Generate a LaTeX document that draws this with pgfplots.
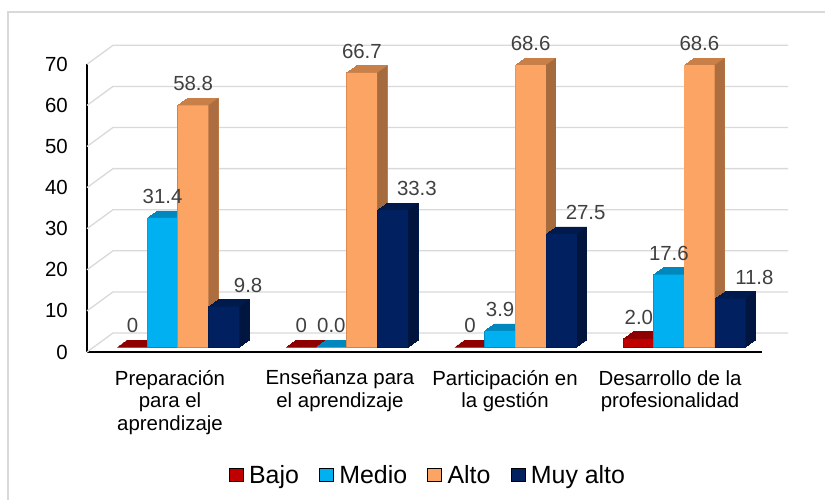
\documentclass[border=0pt]{standalone}
\usepackage{fontspec}
\setmainfont{Liberation Sans}
\usepackage{pgfplots}
\usepackage{pgfplotstable}
\pgfplotsset{compat=1.18}

\definecolor{bajoF}{HTML}{C00000}
\definecolor{bajoT}{HTML}{8E0000}
\definecolor{bajoD}{HTML}{760000}
\definecolor{medioF}{HTML}{00B0F0}
\definecolor{medioT}{HTML}{0088BE}
\definecolor{medioD}{HTML}{0076A6}
\definecolor{altoF}{HTML}{FCA463}
\definecolor{altoT}{HTML}{C88048}
\definecolor{altoD}{HTML}{A56A3E}
\definecolor{muyF}{HTML}{002060}
\definecolor{muyT}{HTML}{001A4E}
\definecolor{muyD}{HTML}{00143C}
\definecolor{gridc}{HTML}{D9D9D9}
\definecolor{framec}{HTML}{D9D9D9}
\definecolor{labc}{HTML}{404040}

\pgfplotstableread{
x v lab
0 0 0
1 0 0
2 0 0
3 2.0 2.0
}\bajo
\pgfplotstableread{
x v lab
0 31.4 31.4
1 0 0.0
2 3.9 3.9
3 17.6 17.6
}\medio
\pgfplotstableread{
x v lab
0 58.8 58.8
1 66.7 66.7
2 68.6 68.6
3 68.6 68.6
}\alto
\pgfplotstableread{
x v lab
0 9.8 9.8
1 33.3 33.3
2 27.5 27.5
3 11.8 11.8
}\muy
\pgfplotstableread{
x y
-0.5 0
-0.34593 4.623
3.65407 4.623
nan nan
-0.5 10
-0.34593 14.623
3.65407 14.623
nan nan
-0.5 20
-0.34593 24.623
3.65407 24.623
nan nan
-0.5 30
-0.34593 34.623
3.65407 34.623
nan nan
-0.5 40
-0.34593 44.623
3.65407 44.623
nan nan
-0.5 50
-0.34593 54.623
3.65407 54.623
nan nan
-0.5 60
-0.34593 64.623
3.65407 64.623
nan nan
-0.5 70
-0.34593 74.623
3.65407 74.623
}\gridtab

% #1 table, #2 front bar shift, #3 side strip shift, #4 top colour, #5 side colour, #6 front colour
\newcommand{\barseries}[6]{%
  \pgfplotsinvokeforeach{0,...,10}{%
    \addplot[ybar, bar width=30.5bp, bar shift=#2, fill=#4, draw=#4, line width=0.8bp,
      xshift=##1bp, yshift={5bp+0.7bp*##1}, forget plot] table[x=x,y=v]{#1};
  }%
  \pgfplotsinvokeforeach{0,...,9}{%
    \addplot[ybar, bar width=1.15bp, bar shift=#3, fill=#5, draw=none,
      xshift=##1bp, yshift={5.35bp+0.7bp*##1}, forget plot] table[x=x,y=v]{#1};
  }%
  \addplot[ybar, bar width=30.5bp, bar shift=#2, fill=#6, draw=none, yshift=5bp, forget plot]
    table[x=x,y=v]{#1};
}

% #1 table, #2 label xshift
\newcommand{\labelseries}[2]{%
  \addplot[draw=none, mark=none, forget plot,
    point meta=explicit symbolic, nodes near coords,
    every node near coord/.append style={anchor=center, yshift=26.5bp, xshift=#2,
      font=\fontsize{20.5}{24}\selectfont, text=labc, inner sep=0pt}]
    table[x=x,y=v,meta=lab]{#1};
}

\begin{document}
\begin{tikzpicture}
\draw[framec, line width=1.2bp] (-79bp,-170bp) -- (-79bp,340bp) -- (760bp,340bp);
\begin{axis}[
  at={(0,0)}, anchor=south west, scale only axis,
  width=675bp, height=287.7bp,
  xmin=-0.5, xmax=3.5, ymin=0, ymax=70, clip=false,
  axis x line*=bottom, axis y line*=left,
  axis line style={black, line width=1.3bp, -},
  major tick length=0pt,
  ytick={0,10,...,70},
  yticklabel style={font=\fontsize{20.5}{24}\selectfont, anchor=east, inner sep=0pt, xshift=-19bp, text=black},
  /pgf/number format/assume math mode=true,
  xtick={-0.008,0.999,1.977,2.955},
  xticklabels={{Preparación\\para el\\aprendizaje},{Enseñanza para\\el aprendizaje},{Participación en\\la gestión},{Desarrollo de la\\profesionalidad}},
  xticklabel style={font=\fontsize{20.5}{22.5}\selectfont, align=center, anchor=north, inner sep=0pt, yshift=-18bp, text=black},
  legend image code/.code={\fill[#1] (0bp,-6.5bp) rectangle (14bp,6.5bp);},
  legend style={at={(0.505,-0.4275)}, anchor=center, draw=none, fill=none,
    legend columns=-1, font=\fontsize{25}{29}\selectfont,
    /tikz/every odd column/.append style={column sep=4bp},
    /tikz/every even column/.append style={column sep=18bp},
    nodes={inner sep=2bp, text=black}},
]
\addplot[gridc, line width=1.3bp, unbounded coords=jump, forget plot] table[x=x,y=y]{\gridtab};

\barseries{\bajo}{-38.75bp}{-23bp}{bajoT}{bajoD}{bajoF}
\barseries{\medio}{-8.75bp}{7bp}{medioT}{medioD}{medioF}
\barseries{\alto}{21.75bp}{37.5bp}{altoT}{altoD}{altoF}
\barseries{\muy}{52.75bp}{68.5bp}{muyT}{muyD}{muyF}

\labelseries{\bajo}{-38.75bp}
\labelseries{\medio}{-8.75bp}
\labelseries{\alto}{21.75bp}
\labelseries{\muy}{76.75bp}

\addlegendimage{fill=bajoF}\addlegendentry{Bajo}
\addlegendimage{fill=medioF}\addlegendentry{Medio}
\addlegendimage{fill=altoF}\addlegendentry{Alto}
\addlegendimage{fill=muyF}\addlegendentry{Muy alto}
\end{axis}
\pgfresetboundingbox
\path[use as bounding box] (-87bp,-148bp) rectangle (738bp,352bp);
\end{tikzpicture}
\end{document}
